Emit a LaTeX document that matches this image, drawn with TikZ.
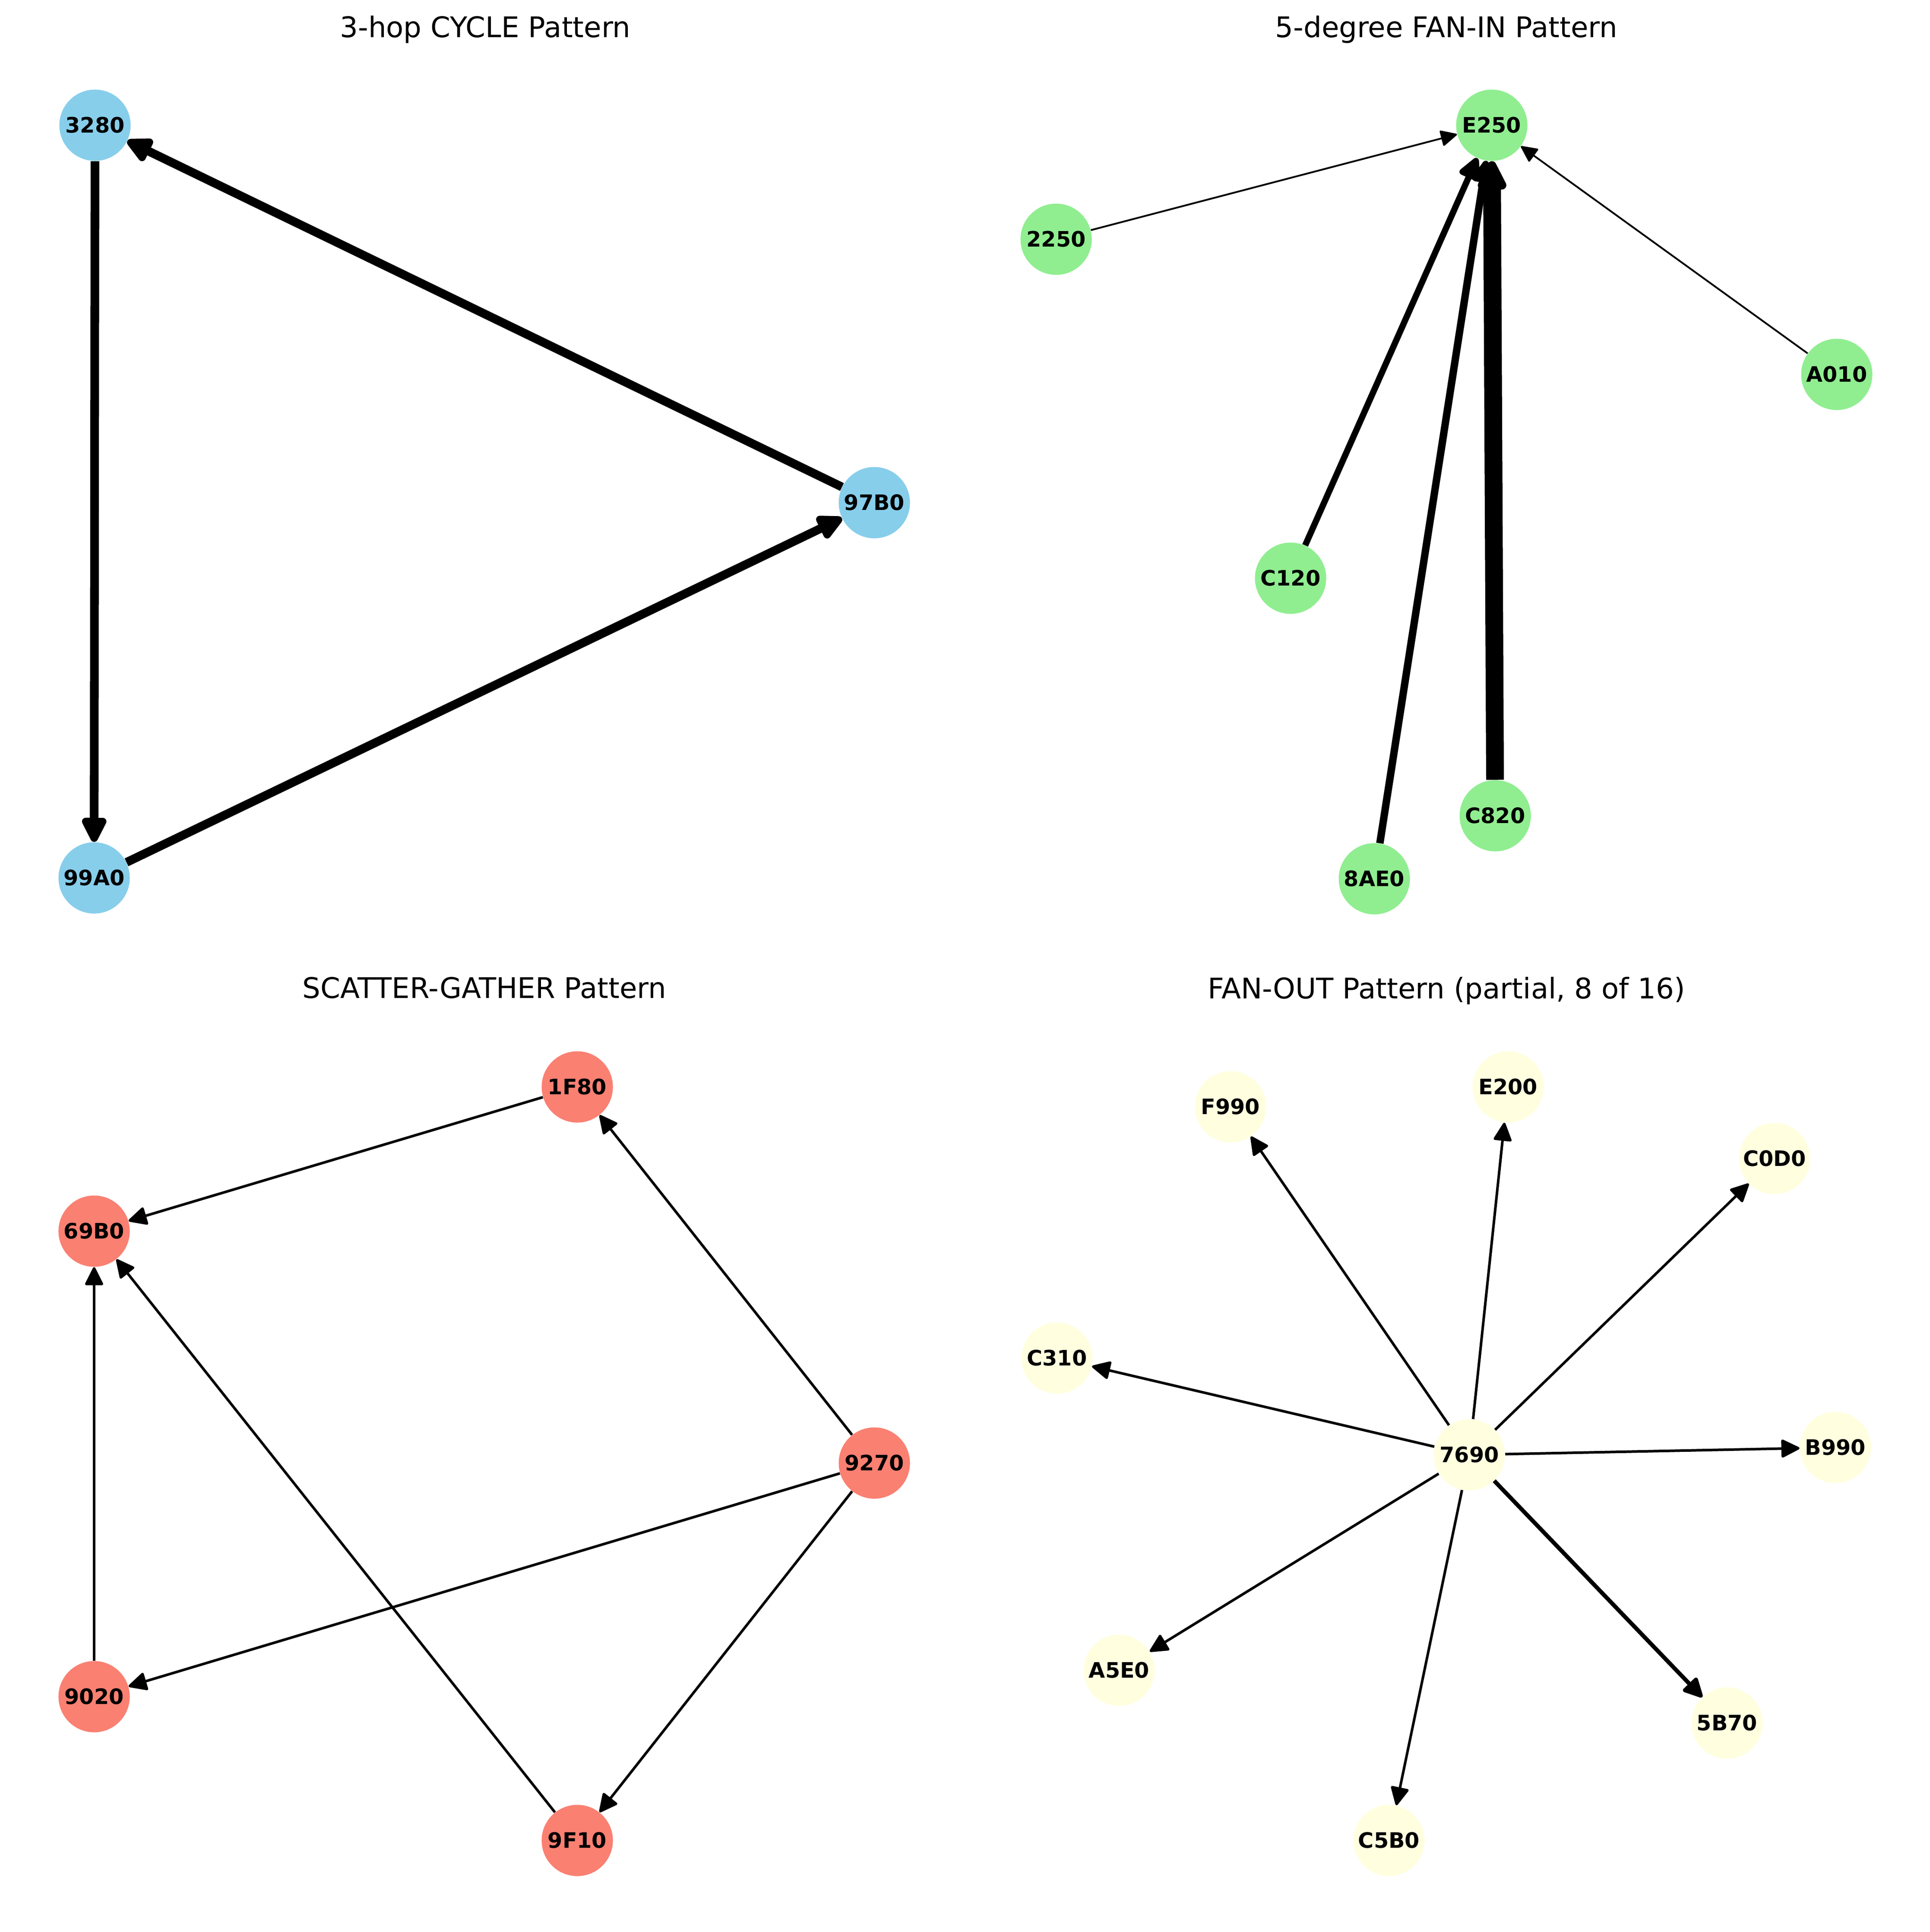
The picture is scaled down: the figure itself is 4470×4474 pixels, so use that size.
\documentclass[tikz,border=0pt]{standalone}
\usepackage{fontspec}
\setmainfont{DejaVu Sans}
\usepackage{xcolor}
\usepackage{tikz}
\usetikzlibrary{arrows.meta}

\definecolor{cycblue}{HTML}{87CEEB}
\definecolor{fangreen}{HTML}{90EE90}
\definecolor{scatsalmon}{HTML}{FA8072}
\definecolor{outyellow}{HTML}{FFFFE0}

\begin{document}
\begin{tikzpicture}[x=0.01cm, y=-0.01cm,
	vertex/.style={circle, inner sep=0, minimum size=1.65cm, font=\fontsize{14}{16}\selectfont\bfseries},
	heading/.style={anchor=base, font=\fontsize{18.7}{22}\selectfont},
	wire/.style={line width=#1, -{Triangle[length=0.46cm, width=0.44cm, round]}},
	wire/.default=1.7pt]
				\useasboundingbox (0,0) rectangle (4470,4474);

				% 3-hop cycle
				\node[heading] (tCycle) at (1124,86) {3-hop CYCLE Pattern};
				\node[vertex, fill=cycblue] (n3280) at (220,290) {3280};
				\node[vertex, fill=cycblue] (n99A0) at (218,2033) {99A0};
				\node[vertex, fill=cycblue] (n97B0) at (2025,1164) {97B0};

				\draw[wire=5.7pt, -{Triangle[length=0.68cm, width=0.62cm, round]}]
					(n3280) edge (n99A0)
					(n99A0) edge (n97B0)
					(n97B0) edge (n3280);

				% 5-degree fan-in
				\node[heading] (tFanIn) at (3350,86) {5-degree FAN-IN Pattern};
				\node[vertex, fill=fangreen] (nE250) at (3455,290) {E250};
				\node[vertex, fill=fangreen] (n2250) at (2446,554) {2250};
				\node[vertex, fill=fangreen] (nA010) at (4254,867) {A010};
				\node[vertex, fill=fangreen] (nC120) at (2989,1339) {C120};
				\node[vertex, fill=fangreen] (nC820) at (3463,1889) {C820};
				\node[vertex, fill=fangreen] (n8AE0) at (3183,2035) {8AE0};

				\draw[wire=1.15pt, -{Triangle[length=0.4cm, width=0.38cm, round]}]
					(n2250) edge (nE250)
					(nA010) edge (nE250)
					(nC120) edge[line width=4.1pt, -{Triangle[length=0.6cm, width=0.55cm, round]}] (nE250)
					(n8AE0) edge[line width=4.9pt, -{Triangle[length=0.62cm, width=0.56cm, round]}] (nE250)
					(nC820) edge[line width=11.7pt, -{Triangle[length=0.8cm, width=0.72cm, round]}] (nE250);

				% scatter-gather
				\node[heading] (tScatter) at (1122,2311) {SCATTER-GATHER Pattern};
				\node[vertex, fill=scatsalmon] (n1F80) at (1337,2517) {1F80};
				\node[vertex, fill=scatsalmon] (n69B0) at (218,2851) {69B0};
				\node[vertex, fill=scatsalmon] (n9270) at (2025,3388) {9270};
				\node[vertex, fill=scatsalmon] (n9020) at (218,3929) {9020};
				\node[vertex, fill=scatsalmon] (n9F10) at (1337,4262) {9F10};

				\draw[wire]
					(n1F80) edge (n69B0)
					(n9270) edge (n1F80)
					(n9020) edge (n69B0)
					(n9F10) edge (n69B0)
					(n9270) edge (n9020)
					(n9270) edge (n9F10);

				% fan-out
				\node[heading] (tFanOut) at (3350,2312) {FAN-OUT Pattern (partial, 8 of 16)};
				\node[vertex, fill=outyellow] (n7690) at (3403,3369) {7690};
				\node[vertex, fill=outyellow] (nF990) at (2850,2563) {F990};
				\node[vertex, fill=outyellow] (nE200) at (3493,2517) {E200};
				\node[vertex, fill=outyellow] (nC0D0) at (4110,2683) {C0D0};
				\node[vertex, fill=outyellow] (nC310) at (2448,3145) {C310};
				\node[vertex, fill=outyellow] (nB990) at (4251,3352) {B990};
				\node[vertex, fill=outyellow] (nA5E0) at (2592,3868) {A5E0};
				\node[vertex, fill=outyellow] (n5B70) at (4000,3990) {5B70};
				\node[vertex, fill=outyellow] (nC5B0) at (3217,4262) {C5B0};

				\draw[wire]
					(n7690) edge (nF990)
					(n7690) edge (nE200)
					(n7690) edge (nC0D0)
					(n7690) edge (nC310)
					(n7690) edge (nB990)
					(n7690) edge (nA5E0)
					(n7690) edge[line width=2.7pt, -{Triangle[length=0.5cm, width=0.48cm, round]}] (n5B70)
					(n7690) edge (nC5B0);
			\end{tikzpicture}
\end{document}
